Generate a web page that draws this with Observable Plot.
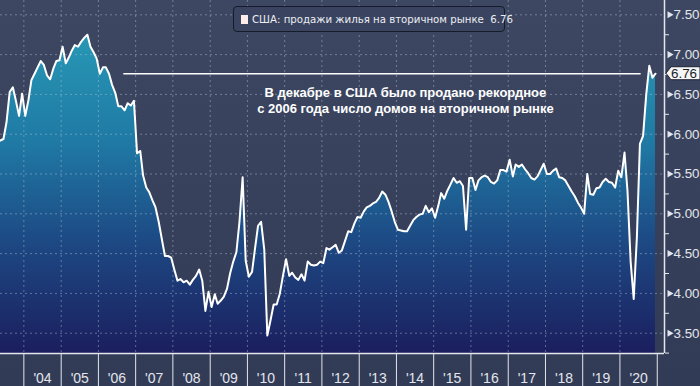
<!DOCTYPE html>
<html>
<head>
<meta charset="utf-8">
<script src="https://cdn.jsdelivr.net/npm/d3@7"></script>
<script src="https://cdn.jsdelivr.net/npm/@observablehq/plot@0.6"></script>
<style>
  html, body { margin: 0; padding: 0; }
  body { background: linear-gradient(#3d4762, #323b56); width: 700px; height: 386px; overflow: hidden; }
  #chart { position: relative; width: 700px; height: 386px; }
  #chart svg { position: absolute; left: 0; top: 0; }
  .legend { position: absolute; left: 233px; top: 6px; width: 272px; height: 26px; box-sizing: border-box;
    border: 1px solid #161b29; border-radius: 4px; background: #3a4460;
    font: 10.2px "DejaVu Sans", Verdana, sans-serif; color: #eceef2;
    display: flex; align-items: center; padding-left: 7px; white-space: nowrap; }
  .legend .sw { width: 7px; height: 9px; background: #fbeeea; margin-right: 4px; flex: none; }
</style>
</head>
<body>
<div id="chart"></div>
<script>
// ---- Data: US existing home sales, millions (SAAR), monthly ----
const firstYear = 2003;            // series starts May 2003
const y2003 = [5.92, 5.94, 6.15, 6.53, 6.59, 6.42, 6.23, 6.51];
const y2004 = [6.23, 6.43, 6.68, 6.76, 6.84, 6.92, 6.87, 6.74, 6.69, 6.82, 6.92, 6.93];
const y2005 = [7.10, 6.89, 6.96, 7.05, 7.12, 7.10, 7.16, 7.21, 7.25, 7.10, 7.03, 6.95];
const y2006 = [6.76, 6.84, 6.84, 6.76, 6.62, 6.52, 6.35, 6.35, 6.30, 6.39, 6.36, 6.42];
const y2007 = [5.76, 5.79, 5.48, 5.33, 5.27, 5.17, 5.08, 4.90, 4.68, 4.47, 4.47, 4.45];
const y2008 = [4.30, 4.16, 4.18, 4.14, 4.16, 4.11, 4.17, 4.22, 4.30, 4.16, 3.78, 4.02];
const y2009 = [3.83, 3.99, 3.87, 3.91, 3.96, 4.06, 4.25, 4.40, 4.52, 4.90, 5.46, 4.41];
const y2010 = [4.21, 4.27, 4.55, 4.85, 4.90, 4.55, 3.47, 3.66, 3.86, 3.86, 4.00, 4.22];
const y2011 = [4.43, 4.22, 4.26, 4.20, 4.17, 4.24, 4.16, 4.40, 4.36, 4.35, 4.36, 4.40];
const y2012 = [4.38, 4.57, 4.55, 4.58, 4.61, 4.51, 4.54, 4.66, 4.78, 4.77, 4.88, 4.96];
const y2013 = [4.95, 5.03, 5.08, 5.10, 5.13, 5.15, 5.20, 5.28, 5.24, 5.15, 5.03, 4.90];
const y2014 = [4.80, 4.79, 4.78, 4.78, 4.85, 4.92, 4.96, 4.99, 5.00, 5.10, 5.02, 5.07];
const y2015 = [4.95, 5.10, 5.26, 5.19, 5.29, 5.37, 5.45, 5.39, 5.41, 5.35, 4.80, 5.45];
const y2016 = [5.45, 5.30, 5.42, 5.46, 5.48, 5.46, 5.40, 5.38, 5.42, 5.55, 5.55, 5.53];
const y2017 = [5.68, 5.47, 5.62, 5.59, 5.62, 5.56, 5.51, 5.45, 5.43, 5.47, 5.55, 5.63];
const y2018 = [5.50, 5.50, 5.54, 5.57, 5.46, 5.45, 5.42, 5.35, 5.28, 5.22, 5.14, 5.08];
const y2019 = [5.00, 5.50, 5.25, 5.24, 5.32, 5.33, 5.40, 5.44, 5.40, 5.39, 5.33, 5.54];
const y2020 = [5.46, 5.77, 5.29, 4.40, 3.93, 4.70, 5.88, 5.98, 6.50, 6.86, 6.71, 6.76];
const seriesByYear = [y2003, y2004, y2005, y2006, y2007, y2008, y2009, y2010, y2011,
  y2012, y2013, y2014, y2015, y2016, y2017, y2018, y2019, y2020];

const yearLabels = ["'04","'05","'06","'07","'08","'09","'10","'11","'12","'13","'14","'15","'16","'17","'18","'19","'20"];
const yTicks = [3.5, 4.0, 4.5, 5.0, 5.5, 6.0, 6.5, 7.0, 7.5];
const yTickLabels = ["3.50","4.00","4.50","5.00","5.50","6.00","6.50","7.00","7.50"];
const yMinorTicks = [3.25, 3.75, 4.25, 4.75, 5.25, 5.75, 6.25, 6.75, 7.25];
const legendText = "США: продажи жилья на вторичном рынке";
const lastLabel = "6.76";
const annotation = "В декабре в США было продано рекордное\nс 2006 года число домов на вторичном рынке";
const recordLevel = 6.76;

// ---- Build table ----
const data = [];
seriesByYear.forEach((vals, i) => {
  const yr = firstYear + i;
  const startMonth = 12 - vals.length;
  vals.forEach((v, j) => data.push({date: new Date(Date.UTC(yr, startMonth + j, 15)), value: v}));
});
const last = data[data.length - 1];

const xStart = new Date(Date.UTC(2003, 4, 17));
const xEnd = new Date(Date.UTC(2021, 2, 13));
const yMin = 3.245, yMax = 7.68;
const yearStarts = d3.range(2004, 2022).map(y => new Date(Date.UTC(y, 0, 1)));
const yearMids = d3.range(2004, 2021).map(y => new Date(Date.UTC(y, 6, 2)));
const gridYears = yearStarts.slice(0, -1);

const axisColor = "#e3e6ec";
const gridStyle = {stroke: "#b9c3d8", strokeOpacity: 0.45, strokeDasharray: "2,3", strokeWidth: 1};

const plot = Plot.plot({
  width: 700, height: 386,
  marginLeft: 0, marginRight: 36, marginTop: 0, marginBottom: 33,
  style: {background: "transparent", color: axisColor, fontFamily: "'Liberation Sans', Arial, sans-serif", overflow: "visible"},
  x: {type: "utc", domain: [xStart, xEnd]},
  y: {domain: [yMin, yMax]},
  marks: [
    Plot.areaY(data, {x: "date", y1: yMin, y2: "value", fill: "url(#areaGrad)", clip: true}),
    Plot.gridY(yTicks, gridStyle),
    Plot.gridX(gridYears, gridStyle),
    Plot.ruleY([recordLevel], {x1: new Date(Date.UTC(2006, 8, 7)), x2: new Date(Date.UTC(2020, 6, 27)), stroke: "white", strokeWidth: 1.5}),
    Plot.lineY(data, {x: "date", y: "value", stroke: "white", strokeWidth: 2, clip: true}),
    Plot.text([annotation], {x: () => new Date(Date.UTC(2014, 2, 30)), y: () => 6.431, text: d => d,
      fill: "white", fontWeight: "bold", fontSize: 13, lineHeight: 1.23, textAnchor: "middle"}),
    Plot.ruleY([yMin], {stroke: axisColor, strokeWidth: 1.5}),
    Plot.ruleX([xEnd], {stroke: axisColor, strokeWidth: 1.5}),
    Plot.axisX(yearStarts, {tickSize: 33, tickFormat: () => "", label: null, strokeWidth: 1}),
    Plot.axisX(yearMids, {tickSize: 0, tickPadding: 20, fontSize: 14, label: null,
      tickFormat: d => yearLabels[d.getUTCFullYear() - 2004]}),
    Plot.axisY(yMinorTicks, {anchor: "right", tickSize: 4, tickFormat: () => "", label: null}),
    Plot.axisY(yTicks, {anchor: "right", tickSize: 0, tickPadding: 9, fontSize: 13.4, label: null,
      tickFormat: d => yTickLabels[yTicks.indexOf(d)]}),
    Plot.dot(yTicks, {y: d => d, frameAnchor: "right", dx: 5, symbol: "triangle", r: 2.6, rotate: 90, fill: axisColor})
  ]
});

// gradient for the area
const svg = d3.select(plot);
const defs = svg.insert("defs", ":first-child");
const grad = defs.append("linearGradient").attr("id", "areaGrad")
  .attr("gradientUnits", "userSpaceOnUse").attr("x1", 0).attr("x2", 0).attr("y1", 30).attr("y2", 353);
[[0, "#2899b6"], [0.35, "#1f79a4"], [0.65, "#1d4a84"], [1, "#1b1e5e"]].forEach(([o, c]) =>
  grad.append("stop").attr("offset", o).attr("stop-color", c));

// last value tag on the right axis
const ys = plot.scale("y"), xs = plot.scale("x");
const ty = ys.apply(last.value);
const tx = xs.apply(xEnd) + 2;
const tag = svg.append("g").attr("text-anchor", "start");
tag.append("path")
  .attr("d", `M${tx},${ty} L${tx + 5},${ty - 6.5} H${tx + 34} V${ty + 6.5} H${tx + 5} Z`)
  .attr("fill", "#f6f6f6").attr("stroke", "#1d2233").attr("stroke-width", 1);
tag.append("text").attr("x", tx + 5).attr("y", ty).attr("dy", "0.36em")
  .attr("text-anchor", "start").attr("font-size", 13.4).attr("fill", "#1a1d28").text(lastLabel);

const chart = document.getElementById("chart");
chart.appendChild(plot);
const lg = document.createElement("div");
lg.className = "legend";
lg.innerHTML = `<span class="sw"></span><span>${legendText}&nbsp;&nbsp;${last.value.toFixed(2)}</span>`;
chart.appendChild(lg);
</script>
</body>
</html>
